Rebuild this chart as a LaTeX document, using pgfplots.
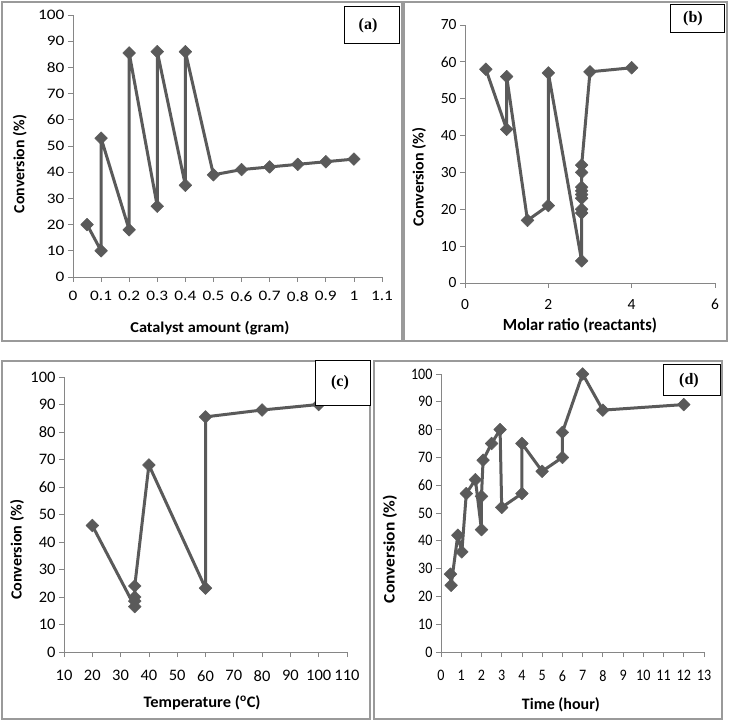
\documentclass[border=0pt]{standalone}
\usepackage{fontspec}
\setmainfont{Carlito}
\newfontfamily\timesfont{Liberation Serif}
\newfontfamily\tka{Carlito}[FakeStretch=1.19]
\newfontfamily\tkc{Carlito}[FakeStretch=1.03]
\newfontfamily\tkd{Carlito}[FakeStretch=0.88]
\usepackage{graphicx}
\usepackage{pgfplots}
\pgfplotsset{compat=1.18}
\definecolor{serie}{HTML}{5A5A5A}
\definecolor{axgray}{HTML}{868686}
\definecolor{boxgray}{HTML}{9A9A9A}
\newcommand{\fs}[1]{\fontsize{#1}{#1}\selectfont}
\newcommand{\wlab}[3]{\resizebox{#1pt}{\height}{\bfseries\fs{#2}#3}}
\pgfplotsset{
  panel/.style={
    scale only axis,
    anchor=south west,
    axis x line=bottom, axis y line=left,
    axis line style={-, axgray, line width=0.8pt},
    tick align=outside,
    major tick length=5pt,
    tick style={axgray, line width=0.8pt},
    /pgf/number format/assume math mode=true,
    ymin=0,
    ylabel style={rotate=0, anchor=center},
    xlabel style={anchor=center},
    clip=false,
  },
  tl/.style={every tick label/.append style={font=#1}},
  ser/.style={color=serie, line width=3pt, line join=round, mark=square*, mark size=4.5pt,
    mark options={rotate=45, solid, fill=serie, draw=serie, line width=0.5pt}},
}
\begin{document}
\begin{tikzpicture}
\path (0,0) rectangle (731pt,721pt);
% panel frames
\draw[boxgray, line width=1.2pt] (2pt,380pt) rectangle (402pt,719pt);
\draw[boxgray, line width=1.2pt] (404pt,380pt) rectangle (727pt,719pt);
\draw[boxgray, line width=1.2pt] (2pt,2pt) rectangle (370pt,360pt);
\draw[boxgray, line width=1.2pt] (374pt,2pt) rectangle (722pt,360pt);

% (a)
\begin{axis}[panel, at={(73pt,444pt)}, width=309pt, height=262pt,
  tl={\tka\fs{14.5}}, xticklabel style={yshift=-6pt},
  xmin=0, xmax=1.1, ymax=100,
  xtick={0,0.1,0.2,0.3,0.4,0.5,0.6,0.7,0.8,0.9,1,1.1},
  xticklabels={0,0.1,0.2,0.3,0.4,0.5,0.6,0.7,0.8,0.9,1,1.1},
  ytick={0,10,...,100},
  yticklabels={0,10,20,30,40,50,60,70,80,90,100},
  xlabel={\wlab{159}{15}{Catalyst amount (gram)}},
  ylabel={\wlab{98}{15.5}{Conversion (\%)}},
  xlabel style={at={(axis description cs:0.443,-0.195)}},
  ylabel style={at={(axis description cs:-0.172,0.431)}},
]
\addplot[ser] coordinates {
(0.05,20) (0.1,10) (0.1,53) (0.2,18) (0.2,85.5) (0.3,27) (0.3,86) (0.4,35) (0.4,86)
(0.5,39) (0.6,41) (0.7,42) (0.8,43) (0.9,44) (1,45)
};
\end{axis}

% (b)
\begin{axis}[panel, at={(465pt,438pt)}, width=250pt, height=258pt,
  tl={\fs{15.5}}, xticklabel style={yshift=-8pt},
  xmin=0, xmax=6, ymax=70,
  xtick={0,2,4,6}, xticklabels={0,2,4,6},
  ytick={0,10,...,70}, yticklabels={0,10,20,30,40,50,60,70},
  xlabel={\wlab{154}{17}{Molar ratio (reactants)}},
  ylabel={\wlab{99}{15.5}{Conversion (\%)}},
  xlabel style={at={(axis description cs:0.46,-0.163)}},
  ylabel style={at={(axis description cs:-0.184,0.41)}},
]
\addplot[ser] coordinates {
(0.5,58) (1,41.7) (1,56) (1.5,17) (2,21) (2,57) (2.8,6) (2.8,19) (2.8,20) (2.8,23)
(2.8,24) (2.8,25) (2.8,26) (2.8,30) (2.8,32) (3,57.3) (4,58.4)
};
\end{axis}

% (c)
\begin{axis}[panel, at={(64pt,69pt)}, width=283pt, height=275pt,
  tl={\tkc\fs{16}}, xticklabel style={yshift=-10pt},
  xmin=10, xmax=110, ymax=100,
  xtick={10,20,...,110}, xticklabels={10,20,30,40,50,60,70,80,90,100,110},
  ytick={0,10,...,100}, yticklabels={0,10,20,30,40,50,60,70,80,90,100},
  xlabel={\wlab{117}{16}{Temperature (\textsuperscript{o}C)}},
  ylabel={\wlab{100}{15.5}{Conversion (\%)}},
  xlabel style={at={(axis description cs:0.488,-0.185)}},
  ylabel style={at={(axis description cs:-0.166,0.371)}},
]
\addplot[ser] coordinates {
(20,46) (35,16.5) (35,18.5) (35,20) (35,24) (40,68) (60,23.2) (60,85.5) (80,88) (100,90)
};
\end{axis}

% (d)
\begin{axis}[panel, at={(441pt,69pt)}, width=263pt, height=278pt,
  tl={\tkd\fs{16}}, xticklabel style={yshift=-10pt},
  xmin=0, xmax=13, ymax=100,
  xtick={0,1,...,13}, xticklabels={0,1,2,3,4,5,6,7,8,9,10,11,12,13},
  ytick={0,10,...,100}, yticklabels={0,10,20,30,40,50,60,70,80,90,100},
  xlabel={\wlab{78}{16}{Time (hour)}},
  ylabel={\wlab{108}{16}{Conversion (\%)}},
  xlabel style={at={(axis description cs:0.456,-0.19)}},
  ylabel style={at={(axis description cs:-0.194,0.37)}},
]
\addplot[ser] coordinates {
(0.47,28) (0.5,24) (0.83,42) (1.03,36) (1.25,57) (1.7,62) (2,44) (2,56) (2.08,69)
(2.5,75) (2.92,80) (3,52) (4,57) (4,75) (5,65) (6,70) (6,79) (7,100) (8,87) (12,89)
};
\end{axis}

% label boxes
\draw[black, line width=1pt, fill=white] (344pt,677pt) rectangle (399pt,714pt);
\node[font=\timesfont\bfseries\fs{16}] at (368pt,695.5pt) {(a)};
\draw[black, line width=1pt, fill=white] (670pt,688pt) rectangle (724pt,716pt);
\node[font=\timesfont\bfseries\fs{16}] at (693pt,702pt) {(b)};
\draw[black, line width=1pt, fill=white] (315pt,315pt) rectangle (370pt,360pt);
\node[font=\timesfont\bfseries\fs{16}] at (340pt,338pt) {(c)};
\draw[black, line width=1pt, fill=white] (663pt,325pt) rectangle (720pt,356pt);
\node[font=\timesfont\bfseries\fs{16}] at (689pt,340.5pt) {(d)};
\end{tikzpicture}
\end{document}
